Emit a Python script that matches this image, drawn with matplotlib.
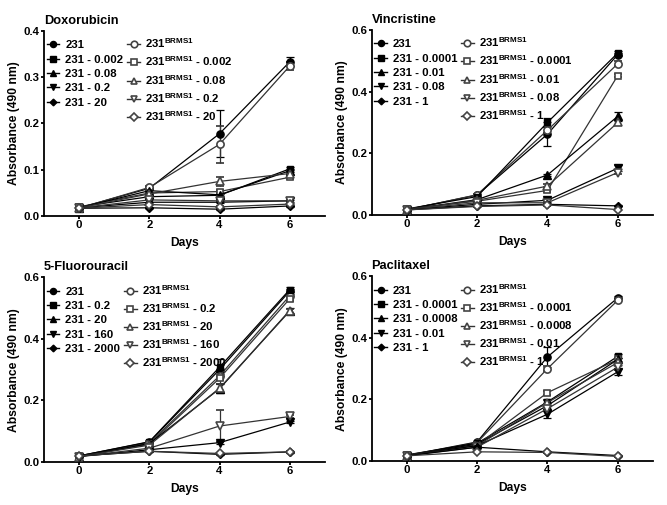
import matplotlib
matplotlib.use("Agg")
import matplotlib.pyplot as plt
from matplotlib.lines import Line2D
import numpy as np

plt.rcParams['font.family'] = ['Liberation Sans', 'DejaVu Sans']
plt.rcParams['font.weight'] = 'bold'
plt.rcParams['mathtext.fontset'] = 'custom'
plt.rcParams['mathtext.rm'] = 'Liberation Sans:bold'
plt.rcParams['mathtext.bf'] = 'Liberation Sans:bold'
plt.rcParams['mathtext.it'] = 'Liberation Sans:bold'

days = [0, 2, 4, 6]

# ---------------- Doxorubicin ----------------
dox_conc = ['', '0.002', '0.08', '0.2', '20']
dox_231 = [
    [0.018, 0.060, 0.178, 0.333],
    [0.020, 0.042, 0.045, 0.102],
    [0.018, 0.055, 0.046, 0.098],
    [0.018, 0.030, 0.030, 0.033],
    [0.017, 0.018, 0.015, 0.022],
]
dox_brms = [
    [0.017, 0.062, 0.155, 0.324],
    [0.020, 0.050, 0.053, 0.084],
    [0.018, 0.048, 0.075, 0.092],
    [0.018, 0.035, 0.033, 0.033],
    [0.017, 0.025, 0.020, 0.026],
]
dox_231_err = [
    [0.001, 0.002, 0.050, 0.010],
    [0.001, 0.002, 0.003, 0.003],
    [0.001, 0.002, 0.003, 0.003],
    [0.001, 0.001, 0.002, 0.002],
    [0.001, 0.001, 0.002, 0.002],
]
dox_brms_err = [
    [0.001, 0.002, 0.040, 0.008],
    [0.001, 0.002, 0.004, 0.004],
    [0.001, 0.002, 0.010, 0.004],
    [0.001, 0.001, 0.002, 0.002],
    [0.001, 0.001, 0.002, 0.002],
]

# ---------------- Vincristine ----------------
vin_conc = ['', '0.0001', '0.01', '0.08', '1']
vin_231 = [
    [0.018, 0.065, 0.262, 0.520],
    [0.020, 0.060, 0.300, 0.525],
    [0.018, 0.050, 0.130, 0.320],
    [0.018, 0.035, 0.048, 0.152],
    [0.017, 0.030, 0.035, 0.030],
]
vin_brms = [
    [0.017, 0.066, 0.275, 0.490],
    [0.020, 0.045, 0.080, 0.452],
    [0.018, 0.048, 0.094, 0.300],
    [0.018, 0.040, 0.040, 0.138],
    [0.017, 0.028, 0.033, 0.018],
]
vin_231_err = [
    [0.001, 0.002, 0.038, 0.005],
    [0.001, 0.002, 0.015, 0.005],
    [0.001, 0.002, 0.004, 0.015],
    [0.001, 0.001, 0.004, 0.010],
    [0.001, 0.001, 0.002, 0.002],
]
vin_brms_err = [
    [0.001, 0.002, 0.010, 0.008],
    [0.001, 0.002, 0.006, 0.006],
    [0.001, 0.002, 0.006, 0.008],
    [0.001, 0.001, 0.003, 0.006],
    [0.001, 0.001, 0.002, 0.002],
]

# ---------------- 5-Fluorouracil ----------------
fu_conc = ['', '0.2', '20', '160', '2000']
fu_231 = [
    [0.020, 0.065, 0.300, 0.555],
    [0.020, 0.066, 0.308, 0.560],
    [0.018, 0.060, 0.238, 0.492],
    [0.018, 0.040, 0.063, 0.130],
    [0.020, 0.035, 0.025, 0.033],
]
fu_brms = [
    [0.020, 0.062, 0.280, 0.540],
    [0.018, 0.058, 0.272, 0.530],
    [0.018, 0.055, 0.240, 0.490],
    [0.018, 0.045, 0.117, 0.148],
    [0.020, 0.035, 0.028, 0.033],
]
fu_231_err = [
    [0.001, 0.003, 0.015, 0.008],
    [0.001, 0.003, 0.028, 0.008],
    [0.001, 0.003, 0.015, 0.008],
    [0.001, 0.002, 0.004, 0.004],
    [0.001, 0.001, 0.002, 0.002],
]
fu_brms_err = [
    [0.001, 0.003, 0.015, 0.008],
    [0.001, 0.003, 0.020, 0.008],
    [0.001, 0.003, 0.015, 0.008],
    [0.001, 0.002, 0.052, 0.004],
    [0.001, 0.001, 0.002, 0.002],
]

# ---------------- Paclitaxel ----------------
pac_conc = ['', '0.0001', '0.0008', '0.01', '1']
pac_231 = [
    [0.018, 0.062, 0.338, 0.530],
    [0.020, 0.058, 0.192, 0.340],
    [0.018, 0.055, 0.180, 0.330],
    [0.018, 0.050, 0.152, 0.290],
    [0.017, 0.045, 0.030, 0.018],
]
pac_brms = [
    [0.017, 0.060, 0.300, 0.522],
    [0.020, 0.052, 0.222, 0.330],
    [0.018, 0.050, 0.190, 0.320],
    [0.018, 0.045, 0.170, 0.305],
    [0.017, 0.030, 0.028, 0.015],
]
pac_231_err = [
    [0.001, 0.002, 0.032, 0.005],
    [0.001, 0.002, 0.010, 0.006],
    [0.001, 0.002, 0.010, 0.006],
    [0.001, 0.002, 0.012, 0.010],
    [0.001, 0.001, 0.002, 0.002],
]
pac_brms_err = [
    [0.001, 0.002, 0.008, 0.005],
    [0.001, 0.002, 0.006, 0.006],
    [0.001, 0.002, 0.008, 0.006],
    [0.001, 0.002, 0.008, 0.008],
    [0.001, 0.001, 0.002, 0.002],
]

titles = ['Doxorubicin', 'Vincristine', '5-Fluorouracil', 'Paclitaxel']
ymaxes = [0.4, 0.6, 0.6, 0.6]
yticks_list = [[0.0, 0.1, 0.2, 0.3, 0.4], [0.0, 0.2, 0.4, 0.6],
               [0.0, 0.2, 0.4, 0.6], [0.0, 0.2, 0.4, 0.6]]
panels = [
    (dox_conc, dox_231, dox_brms, dox_231_err, dox_brms_err),
    (vin_conc, vin_231, vin_brms, vin_231_err, vin_brms_err),
    (fu_conc, fu_231, fu_brms, fu_231_err, fu_brms_err),
    (pac_conc, pac_231, pac_brms, pac_231_err, pac_brms_err),
]
positions = [
    [0.066, 0.572, 0.421, 0.367],
    [0.557, 0.574, 0.422, 0.367],
    [0.066, 0.085, 0.421, 0.366],
    [0.557, 0.087, 0.422, 0.366],
]
markers = ['o', 's', '^', 'v', 'D']
msizes = [5.2, 5, 5.5, 5.5, 4.2]

fig = plt.figure(figsize=(6.67, 5.05), dpi=100)

for i in range(4):
    conc, s231, sbrms, e231, ebrms = panels[i]
    ax = fig.add_axes(positions[i])
    handles_a, handles_b = [], []
    for k in range(5):
        lab_a = '231' if conc[k] == '' else '231 - ' + conc[k]
        lab_b = r'231$^{\mathbf{BRMS1}}$' if conc[k] == '' else r'231$^{\mathbf{BRMS1}}$ - ' + conc[k]
        ax.errorbar(days, s231[k], yerr=e231[k], color='black', lw=0.9,
                    marker=markers[k], ms=msizes[k], mfc='black', mec='black',
                    capsize=3, elinewidth=0.9, capthick=0.9, zorder=3)
        ax.errorbar(days, sbrms[k], yerr=ebrms[k], color='#333333', lw=0.9,
                    marker=markers[k], ms=msizes[k], mfc='white', mec='#444444',
                    mew=1.2, capsize=3, elinewidth=0.9, capthick=0.9, zorder=3)
        handles_a.append(Line2D([], [], color='black', lw=1.0, marker=markers[k],
                                ms=msizes[k] - 0.8, mfc='black', mec='black',
                                label=lab_a))
        handles_b.append(Line2D([], [], color='#333333', lw=1.0, marker=markers[k],
                                ms=msizes[k] - 0.5, mfc='white', mec='#444444',
                                mew=1.2, label=lab_b))
    ax.set_xlim(-1, 7)
    ax.set_ylim(0, ymaxes[i])
    ax.set_xticks([0, 2, 4, 6])
    ax.set_yticks(yticks_list[i])
    ax.set_yticklabels(['%.1f' % v for v in yticks_list[i]])
    for sp in ['top', 'right']:
        ax.spines[sp].set_visible(False)
    for sp in ['left', 'bottom']:
        ax.spines[sp].set_linewidth(1.3)
    ax.tick_params(direction='out', length=2.2, width=1.3, labelsize=8.2, pad=0.8)
    for t in ax.get_xticklabels() + ax.get_yticklabels():
        t.set_fontweight('bold')
    ax.set_xlabel('Days', fontsize=8.7, fontweight='bold', labelpad=5)
    ax.set_ylabel('Absorbance (490 nm)', fontsize=8.7, fontweight='bold', labelpad=2.5)
    ax.set_title(titles[i], loc='left', fontsize=9.2, fontweight='bold', pad=5)
    ax.legend(handles_a + handles_b,
              [h.get_label() for h in handles_a + handles_b],
              ncol=2, loc='upper left', bbox_to_anchor=(-0.01, 1.0),
              frameon=False, handlelength=1.1, handletextpad=0.5,
              labelspacing=0.38, columnspacing=0.35, borderaxespad=0.1,
              prop={'weight': 'bold', 'size': 8.2})

fig.savefig('out.png', dpi=100)
